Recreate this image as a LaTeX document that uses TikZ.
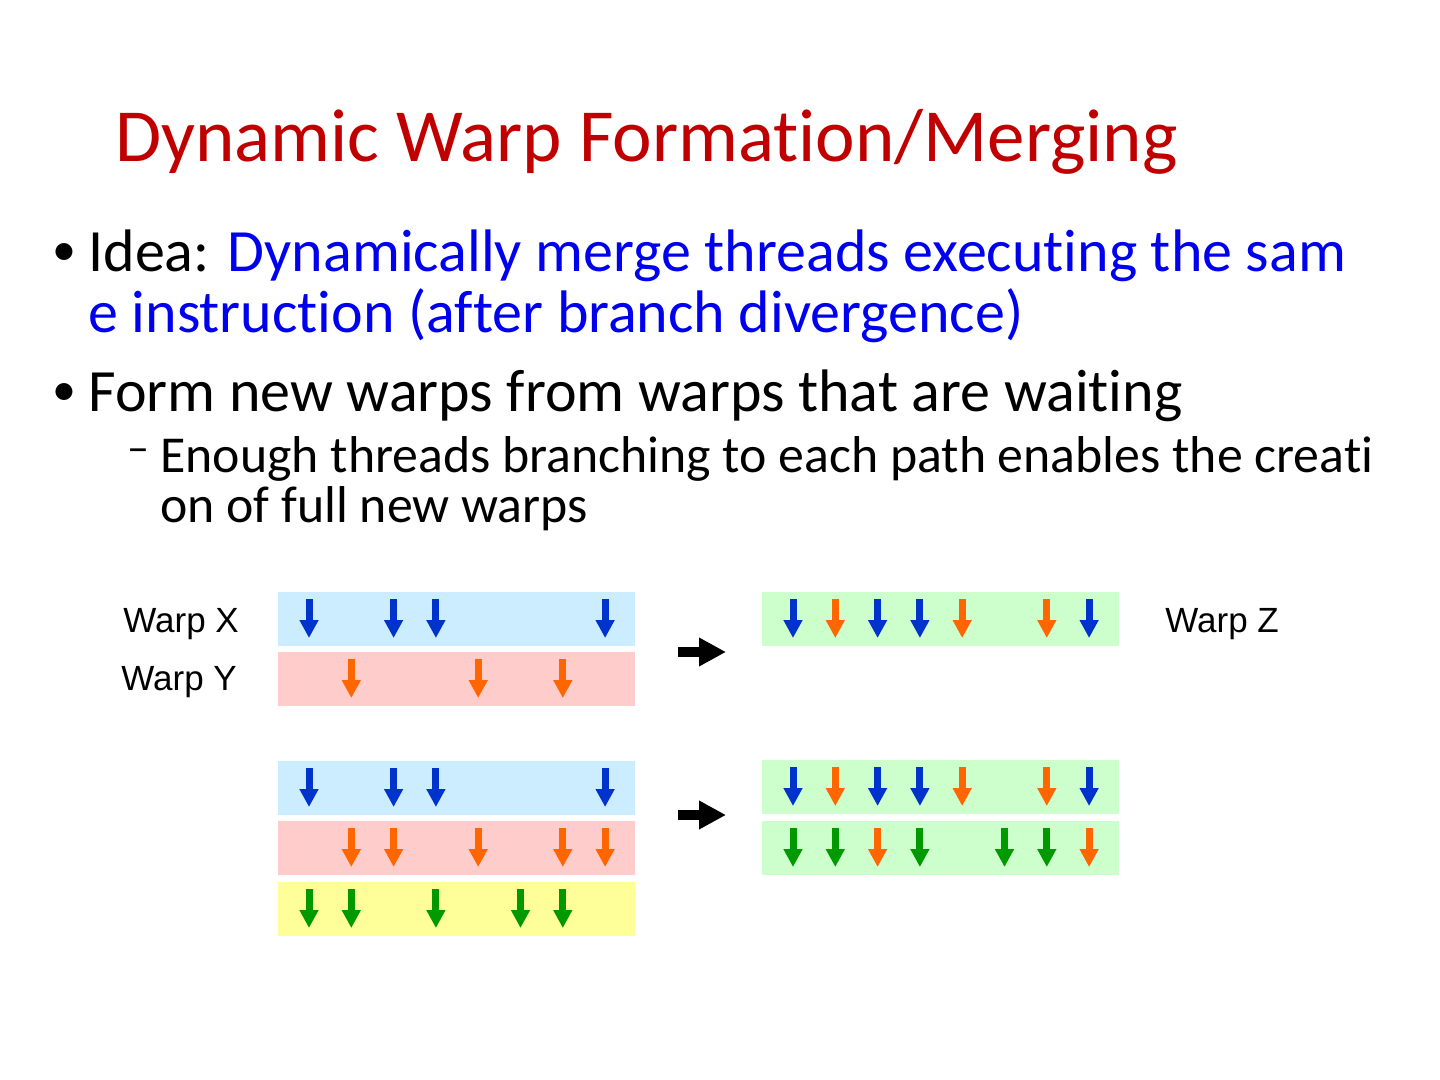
\documentclass[tikz,border=0pt]{standalone}
\usepackage{fontspec}
\setmainfont{Carlito}[Ligatures={NoCommon}]
\newfontfamily\warpfont{Liberation Sans}
\usetikzlibrary{calc,arrows.meta}
\definecolor{titlered}{HTML}{C00000}
\definecolor{ideablue}{HTML}{0000F0}
\definecolor{barblue}{HTML}{CCECFF}
\definecolor{barred}{HTML}{FFCCCC}
\definecolor{baryellow}{HTML}{FFFF99}
\definecolor{bargreen}{HTML}{CCFFCC}
\definecolor{thblue}{HTML}{0033CC}
\definecolor{thorange}{HTML}{FF6600}
\definecolor{thgreen}{HTML}{009900}
\newcommand{\threads}[3]{\foreach \i in {#2} \draw[thread,#3] ($(#1.north west)+(31+42.3*\i,7)$) -- ++(0,39);}

\begin{document}
\begin{tikzpicture}[x=0.5pt,y=-0.5pt,
  every node/.style={inner sep=0pt},
  txt/.style={anchor=base west},
  lvlone/.style={txt,font=\fontsize{30}{36}\selectfont},
  lvltwo/.style={txt,font=\fontsize{25.9}{30}\selectfont},
  warplabel/.style={txt,font=\warpfont\fontsize{17.5}{21}\selectfont},
  bar/.style={anchor=north west,minimum width=178.5pt,minimum height=27pt},
  thread/.style={line width=3.5pt,-{Triangle[width=9pt,length=9pt]}},
  merge/.style={line width=5pt,-{Triangle[width=13.5pt,length=13.5pt]}}]
\useasboundingbox (0,0) rectangle (1440,1080);
\node[txt,text=titlered,font=\fontsize{37.5}{42}\selectfont] (title) at (115,162) {Dynamic Warp Formation/Merging};
\node[lvlone,font=\fontsize{24}{28}\selectfont] (b1) at (52,266) {•};
\node[lvlone] (idea1) at (88,272) {Idea: \textcolor{ideablue}{Dynamically merge threads executing the sam}};
\node[lvlone,text=ideablue] (idea2) at (88,333) {e instruction (after branch divergence)};
\node[lvlone,font=\fontsize{24}{28}\selectfont] (b2) at (52,406) {•};
\node[lvlone] (form) at (88,412) {Form new warps from warps that are waiting};
\node[lvltwo,font=\fontsize{22}{26}\selectfont] (d1) at (127,462) {–};
\node[lvltwo] (enough1) at (160,473) {Enough threads branching to each path enables the creati};
\node[lvltwo] (enough2) at (160,523) {on of full new warps};
% before merging
\node[bar,fill=barblue] (x1) at (278,592) {};
\node[bar,fill=barred] (y1) at (278,652) {};
\node[bar,fill=bargreen] (z1) at (762,592) {};
\node[warplabel] (lx) at (123,632) {Warp X};
\node[warplabel] (ly) at (121,690) {Warp Y};
\node[warplabel] (lz) at (1165,632) {Warp Z};
\threads{x1}{0,2,3,7}{thblue}
\threads{y1}{1,4,6}{thorange}
\threads{z1}{0,2,3,7}{thblue}
\threads{z1}{1,4,6}{thorange}
% three warps into two
\node[bar,fill=barblue] (x2) at (278,761) {};
\node[bar,fill=barred] (y2) at (278,821) {};
\node[bar,fill=baryellow] (w2) at (278,882) {};
\node[bar,fill=bargreen] (z2) at (762,760) {};
\node[bar,fill=bargreen] (v2) at (762,821) {};
\threads{x2}{0,2,3,7}{thblue}
\threads{y2}{1,2,4,6,7}{thorange}
\threads{w2}{0,1,3,5,6}{thgreen}
\threads{z2}{0,2,3,7}{thblue}
\threads{z2}{1,4,6}{thorange}
\threads{v2}{0,1,3,5,6}{thgreen}
\threads{v2}{2,7}{thorange}
\coordinate (m1) at (678,652);
\coordinate (n1) at (726,652);
\coordinate (m2) at (678,815);
\coordinate (n2) at (726,815);
\draw[merge] (m1) -- (n1);
\draw[merge] (m2) -- (n2);
\end{tikzpicture}
\end{document}
